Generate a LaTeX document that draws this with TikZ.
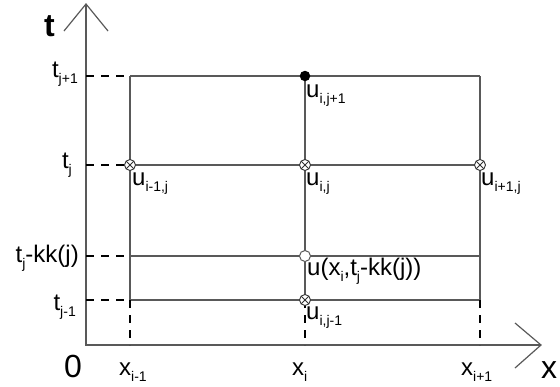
\documentclass[tikz,border=0pt]{standalone}
\usepackage{fontspec}
\setmainfont{Liberation Sans}
\newcommand{\sbs}[1]{\raisebox{-6.5pt}{\fontsize{14}{15}\selectfont #1}}
\begin{document}
\begin{tikzpicture}[x=1pt,y=-1pt,
  gridline/.style={draw=black!65, line width=1.2pt},
  axisline/.style={draw=black!65, line width=1.2pt},
  dashline/.style={draw=black, line width=2.2pt, dash pattern=on 8pt off 7pt},
  lbl/.style={inner sep=0pt, font=\fontsize{24}{27}\selectfont},
  big/.style={inner sep=0pt, font=\fontsize{32}{35}\selectfont},
  otimes/.style={circle, draw=black!80, fill=white, line width=0.9pt, inner sep=0pt, minimum size=11pt,
    path picture={\draw[black!80, line width=0.9pt] (path picture bounding box.north west) -- (path picture bounding box.south east)
      (path picture bounding box.north east) -- (path picture bounding box.south west);}},
  odot/.style={circle, draw=black!65, fill=white, line width=1pt, inner sep=0pt, minimum size=11pt},
  fdot/.style={circle, fill=black, inner sep=0pt, minimum size=10.5pt}]
\path[use as bounding box] (0,0) rectangle (560,386);
% axes
\coordinate (O) at (86,345);
\coordinate (Ytop) at (86,4);
\coordinate (Ya1) at (64,31);
\coordinate (Ya2) at (108,31);
\coordinate (Xend) at (541,345);
\coordinate (Xa1) at (515,323);
\coordinate (Xa2) at (515,368);
% rows on axis
\coordinate (Y1) at (86,76);
\coordinate (Y2) at (86,165);
\coordinate (Y3) at (86,256);
\coordinate (Y4) at (86,300);
% columns on axis
\coordinate (X0) at (130,345);
\coordinate (X1) at (305,345);
\coordinate (X2) at (480,345);
% grid points
\foreach \c/\xx in {0/130,1/305,2/480}{
  \foreach \r/\yy in {1/76,2/165,3/256,4/300}{
    \coordinate (p\c\r) at (\xx,\yy);
  }
}
\draw[axisline] (Ytop) -- (O) -- (Xend);
\draw[axisline] (Ya1) -- (Ytop) -- (Ya2);
\draw[axisline] (Xa1) -- (Xend) -- (Xa2);
% grid
\foreach \r in {1,2,3,4}{ \draw[gridline] (p0\r) -- (p2\r); }
\foreach \c in {0,1,2}{ \draw[gridline] (p\c1) -- (p\c4); }
% dashed
\foreach \r in {1,2,3,4}{ \draw[dashline] (Y\r) -- (p0\r); }
\foreach \c in {0,1,2}{ \draw[dashline] (p\c4) -- (X\c); }
% markers
\node[fdot] (m11) at (p11) {};
\node[otimes] (m02) at (p02) {};
\node[otimes] (m12) at (p12) {};
\node[otimes] (m22) at (p22) {};
\node[odot] (m13) at (p13) {};
\node[otimes] (m14) at (p14) {};
% labels
\node[big, anchor=base west, font=\fontsize{32}{35}\selectfont\bfseries] (tl) at (44,36) {t};
\node[big, anchor=base west] (zl) at (64,377) {0};
\node[big, anchor=base west] (xl) at (541,378) {x};
\node[lbl, anchor=base east] (t1) at (78,77) {t\sbs{j+1}};
\node[lbl, anchor=base east] (t2) at (72,168) {t\sbs{j}};
\node[lbl, anchor=base east] (t3) at (79,262) {t\sbs{j}-kk(j)};
\node[lbl, anchor=base east] (t4) at (76,310) {t\sbs{j-1}};
\node[lbl, anchor=base west] (x0) at (119,375) {x\sbs{i-1}};
\node[lbl, anchor=base west] (x1) at (292,375) {x\sbs{i}};
\node[lbl, anchor=base west] (x2) at (461,375) {x\sbs{i+1}};
\node[lbl, anchor=base west] (u11) at (306,97) {u\sbs{i,j+1}};
\node[lbl, anchor=base west] (u02) at (132,185) {u\sbs{i-1,j}};
\node[lbl, anchor=base west] (u12) at (306,185) {u\sbs{i,j}};
\node[lbl, anchor=base west] (u22) at (481,185) {u\sbs{i+1,j}};
\node[lbl, anchor=base west] (u13) at (307,275) {u(x\sbs{i},t\sbs{j}-kk(j))};
\node[lbl, anchor=base west] (u14) at (306,319) {u\sbs{i,j-1}};
\end{tikzpicture}
\end{document}
